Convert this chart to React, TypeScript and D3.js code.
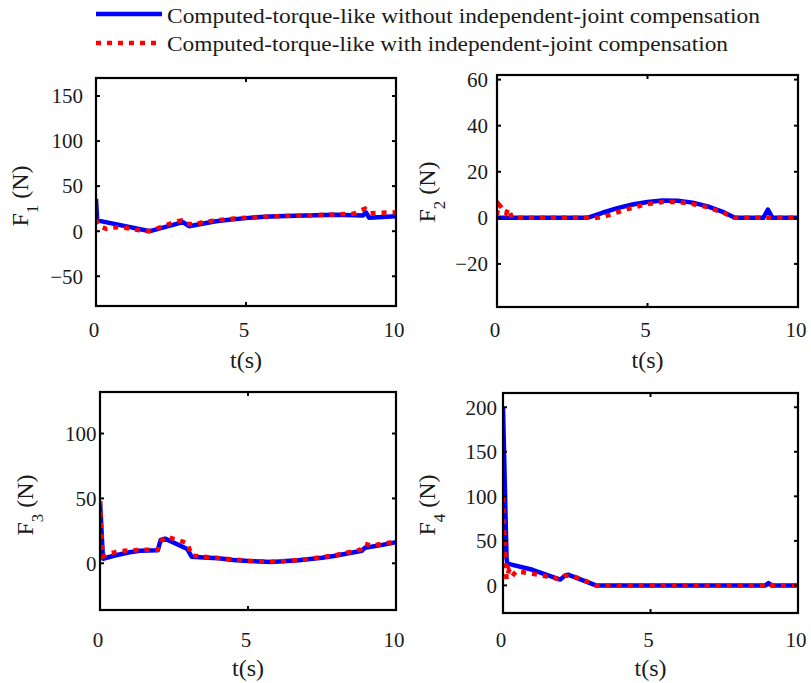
import React from "react";
import * as d3 from "d3";

// ---- data ----
const legendLabels = [
  "Computed-torque-like without independent-joint compensation",
  "Computed-torque-like with independent-joint compensation",
];
const xTicks = [0, 5, 10];

// F1
const f1BlueT = [0, 0.04, 1.8, 2.9, 3.1, 3.5, 4, 4.5, 5, 5.5, 6, 7, 8, 8.9, 9.0, 9.1, 10];
const f1BlueV = [36, 12, 0, 10, 5.5, 8, 11, 13, 14.5, 15.8, 16.5, 17.5, 18.2, 17.5, 21, 15, 16.5];
const f1RedT = [0, 0.1, 0.35, 0.7, 1.0, 1.35, 1.75, 2.0, 2.4, 2.7, 2.85, 3.0, 3.3, 3.7, 4.6, 5.7, 6.8, 7.9, 8.6, 8.97, 9.13, 10];
const f1RedV = [13, 6, 2.5, 4.5, 3.5, 1.5, 0, 2.5, 7.5, 11, 12, 8, 8, 11, 14, 16.3, 17.4, 18.5, 19.6, 25, 20, 21];
const f1Ticks = [-50, 0, 50, 100, 150];

// F2
const f2BlueT = [0, 3.0, 3.5, 4, 4.5, 5, 5.5, 6, 6.5, 7, 7.5, 7.9, 8.85, 9.0, 9.15, 10];
const f2BlueV = [0, 0, 2.2, 4.2, 5.8, 6.9, 7.5, 7.4, 6.6, 5.0, 2.6, 0, 0, 3.6, 0, 0];
const f2RedT = [0, 0.05, 0.15, 0.3, 0.38, 0.5, 3.3, 3.5, 4, 4.5, 5, 5.5, 6, 6.5, 7, 7.5, 7.9, 10];
const f2RedV = [1.2, 6, 4.5, 2, 4, 0, 0, 0.3, 2.4, 4.4, 6, 6.9, 6.9, 6.0, 4.6, 2.3, 0, 0];
const f2Ticks = [-20, 0, 20, 40, 60];

// F3
const f3BlueT = [0, 0.1, 0.5, 1.0, 1.35, 1.95, 2.05, 2.2, 2.95, 3.1, 3.5, 4, 4.5, 5, 5.8, 6.7, 7.5, 7.9, 8.85, 8.95, 9.5, 10];
const f3BlueV = [48, 3.5, 6, 8.5, 9.7, 10, 18, 19, 11, 5, 4.5, 3.8, 2.6, 1.8, 1.0, 2.3, 4.2, 5.6, 9.7, 12, 14, 16.3];
const f3RedT = [0, 0.08, 0.3, 0.6, 1.0, 1.5, 1.95, 2.05, 2.25, 2.6, 2.95, 3.1, 3.5, 4, 5, 5.8, 6.8, 7.9, 8.8, 8.95, 9.2, 9.6, 10];
const f3RedV = [48, 5, 7.5, 9, 10, 10.5, 10.5, 17, 20.5, 18, 15.5, 6, 5, 4, 2, 1.2, 2.5, 6, 10.5, 15, 13.5, 15.5, 16.5];
const f3Ticks = [0, 50, 100];

// F4
const f4BlueT = [0, 0.12, 0.15, 1.0, 1.94, 2.1, 2.2, 2.6, 3.15, 8.9, 9.0, 9.1, 10];
const f4BlueV = [200, 30, 24.5, 17.5, 6.5, 11, 12, 7, 0, 0, 2.5, 0, 0];
const f4RedT = [0, 0.06, 0.12, 0.2, 0.3, 0.45, 0.6, 1.0, 1.5, 1.9, 2.1, 2.4, 2.8, 3.15, 8.9, 9.0, 9.15, 10];
const f4RedV = [99, 40, 7, 17, 10, 16, 15, 13, 10, 7, 11, 10, 5, 0, 0, 1.8, 0, 0];
const f4Ticks = [0, 50, 100, 150, 200];

const BLUE = "#0000ff";
const RED = "#ff0000";
const FONT = "'Liberation Serif', 'Times New Roman', serif";
const TXT = "#1a1a1a";

type Panel = {
  id: string;
  sub: string;
  x0: number; x1: number; y0: number; y1: number;
  yDomain: [number, number];
  yTicks: number[];
  tickLabelX: number;
  ylabelX: number;
  ylabelY: number;
  xTickY: number;
  xLabelY: number;
  blue: [number[], number[]];
  red: [number[], number[]];
};

const panels: Panel[] = [
  { id: "p1", sub: "1", x0: 96, x1: 396, y0: 78, y1: 306, yDomain: [-83, 170], yTicks: f1Ticks,
    tickLabelX: 83, ylabelX: 28, ylabelY: 196, xTickY: 337, xLabelY: 368,
    blue: [f1BlueT, f1BlueV], red: [f1RedT, f1RedV] },
  { id: "p2", sub: "2", x0: 497, x1: 798, y0: 75, y1: 307, yDomain: [-38.7, 62], yTicks: f2Ticks,
    tickLabelX: 488, ylabelX: 435, ylabelY: 192, xTickY: 337, xLabelY: 368,
    blue: [f2BlueT, f2BlueV], red: [f2RedT, f2RedV] },
  { id: "p3", sub: "3", x0: 100, x1: 396, y0: 392, y1: 610, yDomain: [-36, 132], yTicks: f3Ticks,
    tickLabelX: 96.5, ylabelX: 33, ylabelY: 505, xTickY: 647, xLabelY: 676,
    blue: [f3BlueT, f3BlueV], red: [f3RedT, f3RedV] },
  { id: "p4", sub: "4", x0: 503, x1: 798, y0: 393, y1: 613, yDomain: [-31, 216], yTicks: f4Ticks,
    tickLabelX: 497, ylabelX: 435, ylabelY: 505, xTickY: 647, xLabelY: 676,
    blue: [f4BlueT, f4BlueV], red: [f4RedT, f4RedV] },
];

function PanelView({ p }: { p: Panel }) {
  const x = d3.scaleLinear().domain([0, 10]).range([p.x0, p.x1]);
  const y = d3.scaleLinear().domain(p.yDomain).range([p.y1, p.y0]);
  const line = d3.line<[number, number]>().x((d) => x(d[0])).y((d) => y(d[1]));
  const pts = (s: [number[], number[]]) => s[0].map((t, i) => [t, s[1][i]] as [number, number]);
  const tl = 4;
  return (
    <g>
      <defs>
        <clipPath id={`clip-${p.id}`}>
          <rect x={p.x0} y={p.y0} width={p.x1 - p.x0} height={p.y1 - p.y0} />
        </clipPath>
      </defs>
      <g clipPath={`url(#clip-${p.id})`}>
        <path d={line(pts(p.blue)) || ""} fill="none" stroke={BLUE} strokeWidth={4.5} strokeLinejoin="round" />
        <path d={line(pts(p.red)) || ""} fill="none" stroke={RED} strokeWidth={4.5} strokeDasharray="5,6" />
      </g>
      <rect x={p.x0} y={p.y0} width={p.x1 - p.x0} height={p.y1 - p.y0} fill="none" stroke="#000" strokeWidth={2.2} />
      {p.yTicks.map((v) => (
        <g key={`y${v}`}>
          <line x1={p.x0} x2={p.x0 + tl} y1={y(v)} y2={y(v)} stroke="#000" strokeWidth={2} />
          <line x1={p.x1} x2={p.x1 - tl} y1={y(v)} y2={y(v)} stroke="#000" strokeWidth={2} />
          <text x={p.tickLabelX} y={y(v)} dy="0.35em" textAnchor="end" fontSize={21} fontFamily={FONT} fill={TXT}>
            {v < 0 ? `\u2212${Math.abs(v)}` : `${v}`}
          </text>
        </g>
      ))}
      {xTicks.map((v) => (
        <g key={`x${v}`}>
          <line x1={x(v)} x2={x(v)} y1={p.y1} y2={p.y1 - tl} stroke="#000" strokeWidth={2} />
          <line x1={x(v)} x2={x(v)} y1={p.y0} y2={p.y0 + tl} stroke="#000" strokeWidth={2} />
          <text x={x(v) - 2} y={p.xTickY} textAnchor="middle" fontSize={21} fontFamily={FONT} fill={TXT}>
            {v}
          </text>
        </g>
      ))}
      <text x={(p.x0 + p.x1) / 2} y={p.xLabelY} textAnchor="middle" fontSize={24} fontFamily={FONT} fill={TXT}>
        t(s)
      </text>
      <text transform={`translate(${p.ylabelX},${p.ylabelY}) rotate(-90)`} textAnchor="middle" fontSize={24} fontFamily={FONT} fill={TXT}>
        F<tspan fontSize={17} dy={10}>{p.sub}</tspan>
        <tspan dy={-10}> (N)</tspan>
      </text>
    </g>
  );
}

export default function App() {
  return (
    <svg width={811} height={683} style={{ position: "absolute", left: 0, top: 0, background: "#fff" }}>
      <rect x={0} y={0} width={811} height={683} fill="#fff" />
      {/* legend */}
      <line x1={96} x2={162} y1={14} y2={14} stroke={BLUE} strokeWidth={4.5} />
      <line x1={96} x2={162} y1={43} y2={43} stroke={RED} strokeWidth={4.5} strokeDasharray="5,6" />
      <text x={167} y={23} fontSize={22} fontFamily={FONT} fill={TXT} textLength={593} lengthAdjust="spacingAndGlyphs">
        {legendLabels[0]}
      </text>
      <text x={167} y={51} fontSize={22} fontFamily={FONT} fill={TXT} textLength={561} lengthAdjust="spacingAndGlyphs">
        {legendLabels[1]}
      </text>
      {panels.map((p) => (
        <PanelView key={p.id} p={p} />
      ))}
    </svg>
  );
}
